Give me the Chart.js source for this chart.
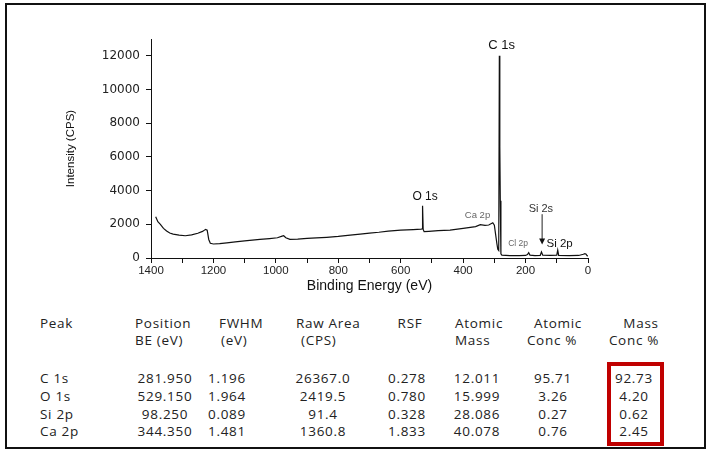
<!DOCTYPE html>
<html>
<head>
<meta charset="utf-8">
<script src="https://cdn.jsdelivr.net/npm/chart.js@4.4.1/dist/chart.umd.min.js"></script>
<style>
  body { margin: 0; background: #fff; }
  #wrap { position: relative; width: 712px; height: 450px; overflow: hidden; }
  #frame { position: absolute; left: 5px; top: 3px; width: 697px; height: 442px; border: 2px solid #111; }
  #chartBox { position: absolute; left: 0; top: 0; width: 712px; height: 300px; }
  #tbl span { position: absolute; font-family: "Open Sans", sans-serif; font-size: 13.5px; line-height: 18px;
              letter-spacing: 0.7px; color: #222; white-space: nowrap; }
  #redbox { position: absolute; left: 607px; top: 362px; width: 49px; height: 76px; border: 4px solid #c00000; }
</style>
</head>
<body>
<div id="wrap">
  <div id="frame"></div>
  <div id="chartBox"><canvas id="myChart" width="712" height="300"></canvas></div>
  <div id="tbl"></div>
  <div id="redbox"></div>
</div>
<script>
// survey spectrum, binding energy (eV) vs intensity (CPS)
var bindingEnergy = [1385, 1378, 1370, 1360, 1350, 1340, 1329, 1310, 1290, 1270, 1250, 1235, 1225, 1220, 1215, 1210,
  1200, 1180, 1157, 1130, 1100, 1051, 1020, 995, 980, 975, 968, 955, 930, 900, 870, 837, 800, 762, 730, 700, 670,
  640, 600, 560, 535, 531, 530, 528, 525, 510, 480, 442, 400, 360, 345, 330, 318, 305, 300, 296, 292, 289, 286,
  284, 282.5, 281, 279, 276, 250, 220, 200, 194, 190, 186, 170, 153, 149, 145, 120, 100, 97, 94, 60, 30, 15, 10, 6, 3, 0];
var intensity = [2450, 2150, 2000, 1760, 1600, 1480, 1420, 1360, 1320, 1370, 1470, 1580, 1700, 1650, 1100, 870,
  830, 850, 900, 960, 1020, 1100, 1150, 1200, 1300, 1320, 1200, 1110, 1120, 1160, 1190, 1230, 1280, 1360, 1420, 1480, 1530,
  1600, 1660, 1690, 1710, 1720, 3100, 1700, 1560, 1580, 1620, 1660, 1760, 1860, 1980, 1940, 1960, 2090, 1950, 1400, 870, 520, 450,
  12000, 6600, 3400, 250, 170, 140, 140, 150, 200, 310, 170, 140, 160, 360, 170, 150, 170, 470, 160, 140, 150, 220, 260, 220, 130, 120];

// peak labels on the plot: [text, BE, intensity, size, colour]
var peakLabels = [
  ["C 1s", 277, 12600, 13, "#111"],
  ["O 1s", 522, 3620, 12, "#111"],
  ["Ca 2p", 354, 2550, 9.5, "#666"],
  ["Si 2s", 151, 2900, 11, "#333"],
  ["Cl 2p", 224, 830, 8.5, "#666"],
  ["Si 2p", 91, 830, 11.5, "#111"]
];

// quantification table
var tblPeak = ["C 1s", "O 1s", "Si 2p", "Ca 2p"];
var tblPosition = ["281.950", "529.150", "98.250", "344.350"];
var tblFwhm = ["1.196", "1.964", "0.089", "1.481"];
var tblRawArea = ["26367.0", "2419.5", "91.4", "1360.8"];
var tblRsf = ["0.278", "0.780", "0.328", "1.833"];
var tblAtomicMass = ["12.011", "15.999", "28.086", "40.078"];
var tblAtomicConc = ["95.71", "3.26", "0.27", "0.76"];
var tblMassConc = ["92.73", "4.20", "0.62", "2.45"];

var points = bindingEnergy.map(function (be, i) { return {x: be, y: intensity[i]}; });

var labelPlugin = {
  id: "peakLabels",
  afterDatasetsDraw: function (chart) {
    var ctx = chart.ctx, xs = chart.scales.x, ys = chart.scales.y;
    ctx.save();
    ctx.textAlign = "center";
    ctx.textBaseline = "middle";
    peakLabels.forEach(function (p) {
      ctx.font = p[3] + "px 'Liberation Sans', Arial, sans-serif";
      ctx.fillStyle = p[4];
      ctx.fillText(p[0], xs.getPixelForValue(p[1]), ys.getPixelForValue(p[2]));
    });
    // arrow under Si 2s
    var ax = xs.getPixelForValue(147);
    var y1 = ys.getPixelForValue(2600), y2 = ys.getPixelForValue(800);
    ctx.strokeStyle = "#222";
    ctx.lineWidth = 1;
    ctx.beginPath();
    ctx.moveTo(ax, y1);
    ctx.lineTo(ax, y2 - 5);
    ctx.stroke();
    ctx.fillStyle = "#111";
    ctx.beginPath();
    ctx.moveTo(ax - 3, y2 - 6);
    ctx.lineTo(ax + 3, y2 - 6);
    ctx.lineTo(ax, y2);
    ctx.closePath();
    ctx.fill();
    ctx.restore();
  }
};

new Chart("myChart", {
  type: "line",
  data: {
    datasets: [{
      data: points,
      borderColor: "#111",
      borderWidth: 1.2,
      pointRadius: 0,
      tension: 0,
      fill: false
    }]
  },
  options: {
    responsive: false,
    animation: false,
    layout: {padding: {left: 60, right: 124, top: 39, bottom: 0}},
    plugins: {legend: {display: false}, tooltip: {enabled: false}},
    scales: {
      x: {
        type: "linear",
        reverse: true,
        min: 0,
        max: 1400,
        afterFit: function (s) { s.height = 42; },
        border: {display: true, color: "#111", width: 1},
        grid: {drawOnChartArea: false, drawTicks: true, tickLength: 5, color: "#111"},
        ticks: {
          stepSize: 100,
          autoSkip: false,
          maxRotation: 0,
          padding: 1,
          color: "#222",
          font: {family: "'Liberation Sans', Arial, sans-serif", size: 11.5},
          callback: function (v) { return v % 200 === 0 ? v : ""; }
        },
        title: {display: true, text: "Binding Energy (eV)", color: "#111",
          font: {family: "'Liberation Sans', Arial, sans-serif", size: 14}, padding: {top: 0, bottom: 5}}
      },
      y: {
        min: 0,
        max: 13000,
        afterFit: function (s) { s.width = 91; },
        border: {display: true, color: "#111", width: 1},
        grid: {drawOnChartArea: false, drawTicks: true, tickLength: 5, color: "#111"},
        ticks: {
          stepSize: 1000,
          padding: 6,
          color: "#222",
          font: {family: "'DejaVu Sans', sans-serif", size: 12},
          callback: function (v) { return v % 2000 === 0 ? v : ""; }
        },
        title: {display: true, text: "Intensity (CPS)", color: "#111",
          font: {family: "'Liberation Sans', Arial, sans-serif", size: 11.5}, padding: {top: 4, bottom: 0}}
      }
    }
  },
  plugins: [labelPlugin]
});

// table text, placed by column
var tbl = document.getElementById("tbl");
function put(text, x, baseline, align) {
  var s = document.createElement("span");
  s.textContent = text;
  s.style.top = (baseline - 14) + "px";
  if (align === "left") { s.style.left = x + "px"; }
  else { s.style.left = (x - 60) + "px"; s.style.width = "120px"; s.style.textAlign = "center"; }
  tbl.appendChild(s);
}
var head1 = 328, head2 = 344.5;
var rowBase = [383, 401, 418.5, 436];
put("Peak", 40, head1, "left");
put("Position", 135, head1, "left"); put("BE (eV)", 135, head2, "left");
put("FWHM", 219, head1, "left"); put("(eV)", 221, head2, "left");
put("Raw Area", 296, head1, "left"); put("(CPS)", 301, head2, "left");
put("RSF", 410, head1, "center");
put("Atomic", 455, head1, "left"); put("Mass", 455, head2, "left");
put("Atomic", 558, head1, "center"); put("Conc %", 552, head2, "center");
put("Mass", 641, head1, "center"); put("Conc %", 634, head2, "center");
var cols = [
  [tblPosition, 165], [tblFwhm, 227], [tblRawArea, 323], [tblRsf, 407],
  [tblAtomicMass, 477], [tblAtomicConc, 553], [tblMassConc, 634]
];
tblPeak.forEach(function (p, i) {
  put(p, 40, rowBase[i], "left");
  cols.forEach(function (c) { put(c[0][i], c[1], rowBase[i], "center"); });
});
</script>
</body>
</html>
